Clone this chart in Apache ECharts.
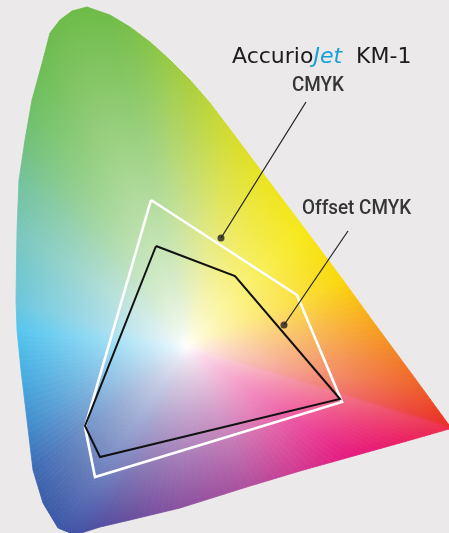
<!DOCTYPE html>
<html>
<head>
<meta charset="utf-8">
<script src="https://cdn.jsdelivr.net/npm/echarts@6/dist/echarts.min.js"></script>
<style>
  html, body { margin: 0; padding: 0; background: #ebe9ea; }
  #main { width: 449px; height: 533px; }
</style>
</head>
<body>
<div id="main"></div>
<script>
  // chromaticity chart, in picture units (x right, y down)
  var whitePoint = [187, 347];

  // spectral locus outline, clockwise from the green tip
  var gamutBoundary = [
    [87, 7], [110, 15], [130, 27], [150, 42], [170, 60], [190, 80], [210, 103],
    [235, 136], [268, 180], [305, 229], [343, 280], [372, 320], [400, 358],
    [425, 392], [449, 425], [449, 429], [400, 443], [350, 457], [300, 471],
    [250, 486], [180, 508], [130, 520], [100, 527], [75, 535], [58, 528],
    [43, 503], [33, 470], [27, 420], [21, 370], [17, 330], [16, 300],
    [17, 230], [19, 180], [25, 140], [32, 100], [43, 60], [50, 33],
    [60, 20], [72, 11]
  ];
  var gamutColors = [
    '#6cbb46', '#6fbc47', '#78bf49', '#86c447', '#98ca42', '#aace3b', '#bcd535',
    '#d6dd2a', '#ece41f', '#f6e816', '#fad70a', '#f8a81c', '#f27e28',
    '#ee5a28', '#ea2c24', '#ec2e4a', '#ea1e66', '#e6187e', '#d23890',
    '#b0509e', '#8a52a0', '#6a4e9e', '#514ea0', '#4050a4', '#3c56a8',
    '#3c5ca8', '#3c6ab4', '#4290cf', '#48b0e2', '#54c5ef', '#6cc6dc',
    '#78c6bc', '#72c29c', '#70c07a', '#6ebf62', '#6cbd52', '#6cbb4c',
    '#6cbb48', '#6cbb47'
  ];

  // gamut polygons
  var km1Cmyk = [[151, 200], [297, 295], [342, 402], [95, 477], [85, 427]];
  var offsetCmyk = [[156, 246], [235, 276], [340, 399], [100, 457], [85, 426]];

  // leader lines: [label end, dot end]
  var km1Leader = [[306, 102], [221, 238]];
  var offsetLeader = [[348, 231], [284, 325]];

  function hexRgb(h) {
    return [parseInt(h.substr(1, 2), 16), parseInt(h.substr(3, 2), 16), parseInt(h.substr(5, 2), 16)];
  }
  function mixRgb(a, b, t) {
    return [a[0] + (b[0] - a[0]) * t, a[1] + (b[1] - a[1]) * t, a[2] + (b[2] - a[2]) * t];
  }
  function css(c) {
    return 'rgb(' + Math.round(c[0]) + ',' + Math.round(c[1]) + ',' + Math.round(c[2]) + ')';
  }
  function stops(col) {
    var white = [255, 255, 255];
    return [0, 0.08, 0.2, 0.4, 0.6, 0.8, 1].map(function (s) {
      return { offset: s, color: css(mixRgb(white, col, Math.pow(s, 0.75))) };
    });
  }

  // one fan wedge from the white point to a boundary segment
  function renderWedge(params, api) {
    var n = gamutBoundary.length;
    var i = params.dataIndex;
    var a = api.coord(gamutBoundary[i]);
    var b = api.coord(gamutBoundary[(i + 1) % n]);
    var w = api.coord(whitePoint);
    var ca = hexRgb(gamutColors[i]);
    var cb = hexRgb(gamutColors[(i + 1) % n]);
    var k = 8;
    var children = [];
    for (var j = 0; j < k; j++) {
      var p = [a[0] + (b[0] - a[0]) * j / k, a[1] + (b[1] - a[1]) * j / k];
      var q = [a[0] + (b[0] - a[0]) * (j + 1) / k, a[1] + (b[1] - a[1]) * (j + 1) / k];
      var dx = q[0] - p[0], dy = q[1] - p[1];
      var len2 = dx * dx + dy * dy;
      var foot;
      if (len2 < 1e-6) {
        foot = p;
      } else {
        var t = ((w[0] - p[0]) * dx + (w[1] - p[1]) * dy) / len2;
        foot = [p[0] + dx * t, p[1] + dy * t];
      }
      var grad = {
        type: 'linear', x: w[0], y: w[1], x2: foot[0], y2: foot[1], global: true,
        colorStops: stops(mixRgb(ca, cb, (j + 0.5) / k))
      };
      children.push({
        type: 'polygon',
        shape: { points: [w, p, q] },
        style: { fill: grad, stroke: grad, lineWidth: 0.8 },
        silent: true
      });
    }
    return { type: 'group', children: children };
  }

  var myChart = echarts.init(document.getElementById('main'));
  var option = {
    backgroundColor: '#ebe9ea',
    animation: false,
    grid: { left: 0, right: 0, top: 0, bottom: 0 },
    xAxis: { type: 'value', min: 0, max: 449, show: false },
    yAxis: { type: 'value', min: 0, max: 533, inverse: true, show: false },
    graphic: [
      {
        type: 'text', x: 232, y: 57,
        style: {
          text: '{a|Accurio}{j|Jet}{k|  KM-1}',
          verticalAlign: 'middle',
          rich: {
            a: { fontFamily: 'DejaVu Sans', fontSize: 22, fill: '#1e1b1c' },
            j: { fontFamily: 'DejaVu Sans', fontSize: 22, fontStyle: 'italic', fill: '#17a0d8' },
            k: { fontFamily: 'DejaVu Sans', fontSize: 22, fill: '#1e1b1c' }
          }
        }
      },
      {
        type: 'text', x: 318, y: 86, scaleX: 0.92,
        style: {
          text: 'CMYK', align: 'center', verticalAlign: 'middle',
          fontFamily: 'Roboto', fontWeight: 500, fontSize: 20.5, fill: '#353535'
        }
      },
      {
        type: 'text', x: 302, y: 209, scaleX: 0.92,
        style: {
          text: 'Offset CMYK', align: 'left', verticalAlign: 'middle',
          fontFamily: 'Roboto', fontWeight: 500, fontSize: 20.5, fill: '#353535'
        }
      }
    ],
    series: [
      {
        type: 'custom',
        renderItem: renderWedge,
        data: gamutBoundary,
        encode: { x: 0, y: 1 },
        silent: true
      },
      {
        type: 'line',
        data: km1Cmyk.concat([km1Cmyk[0]]),
        symbol: 'none',
        lineStyle: { color: '#ffffff', width: 2.6, join: 'miter' },
        silent: true
      },
      {
        type: 'line',
        data: offsetCmyk.concat([offsetCmyk[0]]),
        symbol: 'none',
        lineStyle: { color: '#111111', width: 2, join: 'miter' },
        silent: true
      },
      {
        type: 'line',
        data: km1Leader,
        symbol: 'none',
        lineStyle: { color: '#222', width: 1.2 },
        silent: true
      },
      {
        type: 'line',
        data: offsetLeader,
        symbol: 'none',
        lineStyle: { color: '#222', width: 1.2 },
        silent: true
      },
      {
        type: 'scatter',
        data: [km1Leader[1], offsetLeader[1]],
        symbol: 'circle',
        symbolSize: 7,
        itemStyle: { color: '#222' },
        silent: true
      }
    ]
  };
  myChart.setOption(option);
</script>
</body>
</html>
